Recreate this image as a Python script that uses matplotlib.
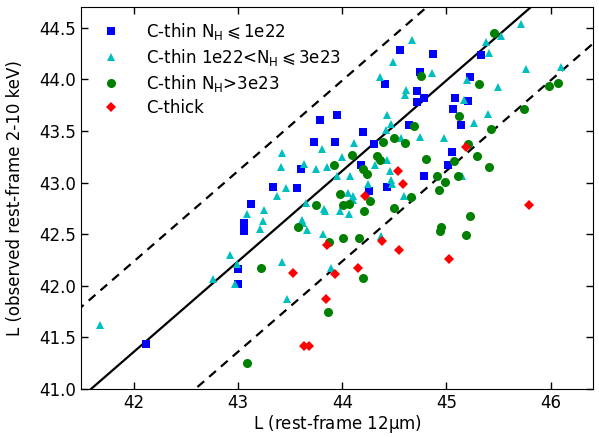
import matplotlib.pyplot as plt
import numpy as np

# C-thin, NH <= 1e22
thin1_x = [42.11, 43.00, 43.00, 43.06, 43.06, 43.12, 43.33, 43.56, 43.60, 43.73, 43.79, 43.95,
           43.93, 44.20, 44.30, 44.18, 44.26, 44.43, 44.78, 45.01, 45.05, 45.14, 44.64, 44.55,
           44.87, 45.33, 44.75, 44.41, 45.23, 44.72, 44.78, 44.72, 45.08, 45.21, 45.06]
thin1_y = [41.43, 42.16, 42.02, 42.61, 42.53, 42.79, 42.955, 42.945, 43.13, 43.39, 43.61, 43.66,
           43.39, 43.49, 43.37, 43.17, 42.92, 42.955, 43.065, 43.17, 43.295, 43.56, 43.56, 44.29,
           44.25, 44.24, 44.07, 43.96, 44.02, 43.89, 43.82, 43.78, 43.82, 43.79, 43.71]

# C-thin, 1e22 < NH <= 3e23
thin2_x = [41.67, 42.76, 42.92, 42.99, 42.97, 43.42, 43.47, 43.085, 43.25, 43.24, 43.21, 43.37,
           43.46, 43.41, 43.42, 43.63, 43.75, 43.65, 43.61, 43.62, 43.66, 43.80, 43.85, 43.95,
           44.00, 44.11, 44.07, 44.05, 44.10, 44.10, 43.82, 43.83, 43.98, 44.065, 43.81, 44.25,
           44.31, 44.46, 44.43, 44.47, 44.48, 44.37, 43.89, 44.59, 44.47, 44.75, 44.98, 45.26,
           45.15, 44.67, 44.49, 44.36, 44.61, 44.60, 44.86, 44.43, 45.17, 45.20, 45.38, 45.41,
           45.52, 45.72, 45.49, 45.40, 45.76, 46.10, 44.56, 44.42]
thin2_y = [41.62, 42.06, 42.30, 42.21, 42.02, 42.23, 41.87, 42.69, 42.73, 42.63, 42.55, 42.87,
           42.945, 43.15, 43.285, 43.18, 43.13, 42.805, 42.635, 42.605, 42.54, 43.33, 43.15, 43.065,
           43.25, 43.38, 43.065, 42.90, 42.865, 42.83, 42.74, 42.72, 42.725, 42.695, 42.50, 42.99,
           43.17, 43.11, 43.22, 43.02, 42.99, 42.48, 42.17, 42.865, 43.57, 43.44, 43.43, 43.58,
           43.065, 44.38, 44.17, 44.02, 43.90, 43.845, 44.06, 43.655, 43.80, 43.995, 44.36, 44.26,
           44.42, 44.535, 43.93, 43.665, 44.10, 44.12, 43.43, 43.51]

# C-thin, NH > 3e23
thin3_x = [43.08, 43.22, 43.575, 43.75, 43.915, 44.09, 43.98, 44.01, 44.06, 44.21, 44.01, 44.16,
           43.87, 44.20, 44.24, 44.27, 44.50, 44.33, 44.36, 44.39, 44.69, 45.43, 44.50, 44.60,
           44.80, 44.91, 44.985, 44.93, 45.07, 45.11, 45.21, 45.295, 45.41, 44.66, 44.946, 44.937,
           45.225, 45.19, 44.20, 43.86, 45.46, 44.76, 45.31, 45.98, 46.07, 45.74, 45.12]
thin3_y = [41.245, 42.17, 42.57, 42.78, 43.17, 43.27, 42.89, 42.78, 42.79, 42.72, 42.46, 42.465,
           42.42, 43.135, 43.085, 42.82, 42.75, 43.26, 43.22, 43.39, 43.55, 43.52, 43.43, 43.38,
           43.23, 43.065, 43.01, 42.93, 43.21, 43.065, 43.37, 43.26, 43.15, 42.86, 42.57, 42.53,
           42.68, 42.49, 42.07, 41.74, 44.45, 44.03, 43.96, 43.94, 43.97, 43.71, 43.65]

# Compton-thick
thick_x = [43.53, 43.63, 43.68, 43.93, 44.15, 45.02, 43.84, 43.85, 44.38, 44.22, 44.53, 44.54,
           45.19, 44.58, 45.79]
thick_y = [42.125, 41.41, 41.41, 42.11, 42.17, 42.255, 41.87, 42.39, 42.43, 42.87, 43.11, 42.345,
           43.34, 42.99, 42.78]

# relation and +/- 1 dex band (shift in L12)
slope = 0.877
intercept = 4.526
shift = 1.0

plt.rcParams['font.size'] = 12
plt.rcParams['mathtext.default'] = 'regular'

fig = plt.figure(figsize=(5.99, 4.37), dpi=100)
ax = fig.add_axes([0.1352, 0.1105, 0.8553, 0.8728])

xx = np.array([41.0, 47.0])
ax.plot(xx, slope * xx + intercept, 'k-', lw=1.6)
ax.plot(xx, slope * (xx + shift) + intercept, 'k--', lw=1.6, dashes=(4, 3))
ax.plot(xx, slope * (xx - shift) + intercept, 'k--', lw=1.6, dashes=(4, 3))

ax.plot(thin1_x, thin1_y, 's', color='b', ms=6, mew=0, label=r'C-thin N$_H$$\leqslant$1e22')
ax.plot(thin2_x, thin2_y, '^', color='c', ms=6, mew=0, label=r'C-thin 1e22<N$_H$$\leqslant$3e23')
ax.plot(thin3_x, thin3_y, 'o', color='g', ms=6.5, mew=0, label=r'C-thin N$_H$>3e23')
ax.plot(thick_x, thick_y, 'D', color='r', ms=5.5, mew=0, label='C-thick')

ax.set_xlim(41.49, 46.41)
ax.set_ylim(41.0, 44.7)
ax.set_xticks([42, 43, 44, 45, 46])
ax.set_yticks(np.arange(41.0, 44.51, 0.5))
ax.set_yticklabels(['%.1f' % v for v in np.arange(41.0, 44.51, 0.5)])
ax.tick_params(direction='in', top=True, right=True, length=5, width=1)
ax.set_xlabel(r'L (rest-frame 12$\mu$m)', labelpad=1)
ax.set_ylabel('L (observed rest-frame 2-10 keV)', labelpad=11)

ax.legend(loc='upper left', frameon=False, numpoints=1, handletextpad=1.1,
          labelspacing=0.3, borderaxespad=0.4)

fig.savefig('out.png', dpi=100)
